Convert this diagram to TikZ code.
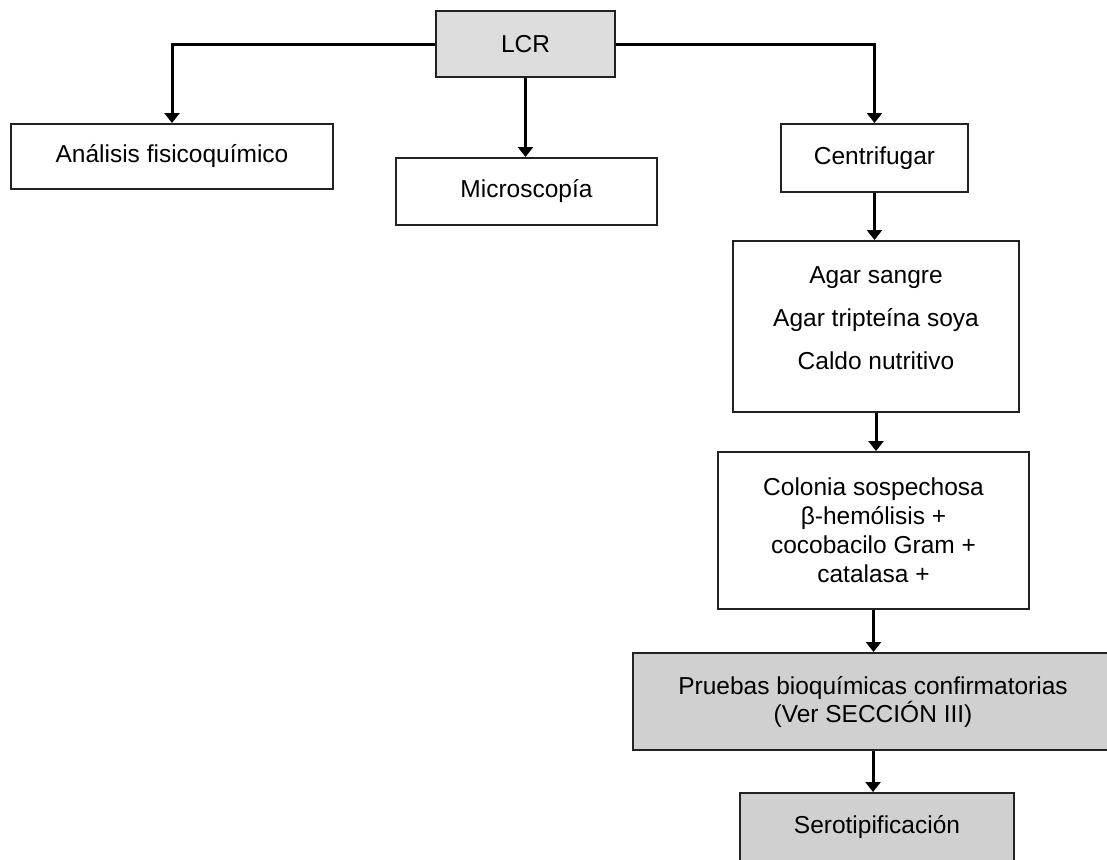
\documentclass[tikz,border=0pt]{standalone}
\usepackage{fontspec}
\setmainfont{Liberation Sans}
\usetikzlibrary{arrows.meta}
\definecolor{grisclaro}{RGB}{221,221,221}
\definecolor{gris}{RGB}{208,208,208}
\definecolor{borde}{RGB}{34,34,34}

\begin{document}
\begin{tikzpicture}[x=0.5pt,y=-0.5pt,
  caja/.style={draw=borde,line width=1pt,align=center,inner sep=0pt,
    font=\fontsize{12.25}{14.5}\selectfont},
  flecha/.style={line width=1.5pt,-{Triangle[width=7.5pt,length=5pt]}}]
  \useasboundingbox (0,0) rectangle (1107,859);
   \node[caja,fill=grisclaro,minimum width=89.5pt,minimum height=33pt] (lcr) at (525.5,44) {LCR};
   \node[caja,minimum width=161pt,minimum height=32.5pt] (analisis) at (172,156.5) {Análisis fisicoquímico};
   \node[caja,minimum width=130.5pt,minimum height=33.5pt] (micro) at (526.5,191.5) {Microscopía};
   \node[caja,minimum width=93.5pt,minimum height=34pt] (centri) at (874.5,158) {Centrifugar};
   \node[caja,minimum width=143pt,minimum height=85.5pt,text depth=8.5pt,
     font=\fontsize{12.25}{21.5}\selectfont] (agar) at (876,326.5)
     {Agar sangre\\Agar tripteína soya\\Caldo nutritivo};
   \node[caja,minimum width=155.5pt,minimum height=78.5pt] (colonia) at (873.5,530.5)
     {Colonia sospechosa\\β-hemólisis +\\cocobacilo Gram +\\catalasa +};
   \node[caja,fill=gris,minimum width=240pt,minimum height=48.5pt,
     font=\fontsize{12.25}{14}\selectfont] (pruebas) at (873,701.5)
     {Pruebas bioquímicas confirmatorias\\(Ver SECCIÓN III)};
   \node[caja,fill=gris,minimum width=137pt,minimum height=34pt] (sero) at (877,827) {Serotipificación};

    \draw[flecha] (lcr.west) -| (analisis.north);
    \draw[flecha] (lcr.east) -| (centri.north);
    \draw[flecha] (lcr.south) -- (lcr.south |- micro.north);
    \draw[flecha] (centri.south) -- (centri.south |- agar.north);
    \draw[flecha] (agar.south) -- (agar.south |- colonia.north);
    \draw[flecha] (colonia.south) -- (colonia.south |- pruebas.north);
    \draw[flecha] (pruebas.south) -- (pruebas.south |- sero.north);
\end{tikzpicture}
\end{document}
